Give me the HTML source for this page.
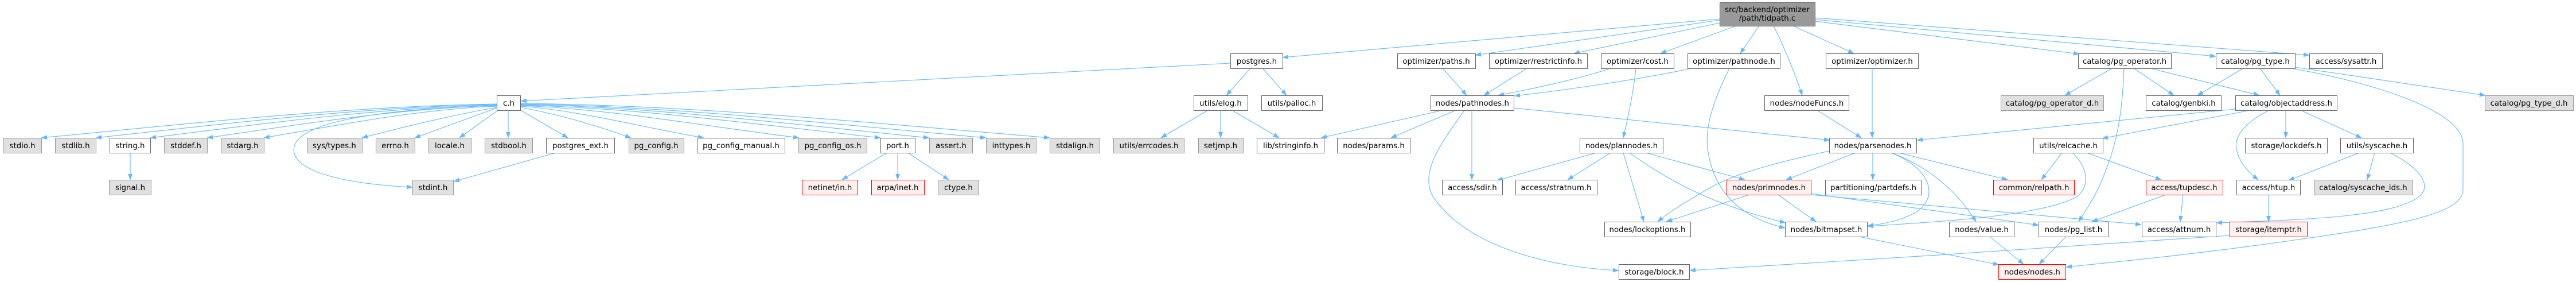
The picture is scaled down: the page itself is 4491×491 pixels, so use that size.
<!DOCTYPE html>
<html>
<head>
<meta charset="utf-8">
<style>
  html, body { margin: 0; padding: 0; background: #ffffff; }
  body { width: 4491px; height: 491px; overflow: hidden; }
  svg { display: block; }
  text { font-family: "DejaVu Sans", "Liberation Sans", sans-serif; font-size: 13.33px; fill: #000; text-anchor: middle; }
  .w { fill: #ffffff; stroke: #666666; stroke-width: 1; }
  .g { fill: #e0e0e0; stroke: #999999; stroke-width: 1; }
  .r { fill: #fff0f0; stroke: #ff0000; stroke-width: 1; }
  .root { fill: #999999; stroke: #666666; stroke-width: 1; }
  .e path { fill: none; stroke: #63b8ff; stroke-width: 1.1; }
</style>
</head>
<body>
<svg width="4491" height="491" viewBox="0 0 4491 491" xmlns="http://www.w3.org/2000/svg">
<defs>
  <marker id="a" markerWidth="11" markerHeight="9" refX="10" refY="4" orient="auto" markerUnits="userSpaceOnUse">
    <path d="M0,0.3 L10,4 L0,7.7 z" fill="#63b8ff" stroke="#63b8ff" stroke-width="0.5"/>
  </marker>
</defs>

<g class="e" marker-end="url(#a)">
  <!-- root edges -->
  <path d="M2998,33 L2236,100"/>
  <path d="M2998,35 L2572,96"/>
  <path d="M2998,40 L2744,93"/>
  <path d="M3027,45 L2895,93"/>
  <path d="M3067,45 L3034,93"/>
  <path d="M3092,45 C3110,80 3130,130 3142,166"/>
  <path d="M3126,45 L3232,93"/>
  <path d="M3164,37 L3625,94"/>
  <path d="M3164,34 L3863,98"/>
  <path d="M3164,31 L4026,96"/>

  <!-- postgres.h -->
  <path d="M2145,110 L908,176"/>
  <path d="M2180,119 L2138,166"/>
  <path d="M2201,119 L2243,166"/>

  <!-- c.h fan left -->
  <path d="M866,181 C604,185 334,215 72,240"/>
  <path d="M866,182 C635,186 398,215 167,240"/>
  <path d="M866,183 C667,187 461,215 262,240"/>
  <path d="M866,184 C699,188 528,216 361,240"/>
  <path d="M866,185 C732,190 594,217 460,240"/>
  <path d="M866,187 C790,200 700,222 631,240"/>
  <path d="M866,188 L723,240"/>
  <path d="M868,192 L801,240"/>
  <path d="M886,192 L886,240"/>
  <path d="M908,192 L990,240"/>
  <path d="M907,187 C980,200 1050,222 1100,240"/>
  <path d="M907,185 C1010,192 1120,222 1227,240"/>
  <path d="M907,184 C1070,190 1230,220 1393,240"/>
  <path d="M907,183 C1115,188 1330,218 1535,240"/>
  <path d="M907,182 C1140,186 1385,217 1620,240"/>
  <path d="M907,181 C1175,185 1450,216 1719,240"/>
  <path d="M907,180 C1210,183 1530,215 1830,240"/>
  <path d="M866,184 C650,190 500,215 513,267 C523,300 600,320 719,326"/>

  <path d="M227,266 L227,313"/>
  <path d="M969,266 L791,316"/>
  <path d="M1546,266 L1468,313"/>
  <path d="M1565,266 L1565,313"/>
  <path d="M1583,266 L1654,313"/>

  <!-- utils/elog.h -->
  <path d="M2106,192 L2024,240"/>
  <path d="M2128,192 L2128,240"/>
  <path d="M2148,192 L2230,240"/>

  <!-- optimizer headers -> pathnodes / plannodes -->
  <path d="M2515,119 L2557,166"/>
  <path d="M2662,119 L2587,166"/>
  <path d="M2808,119 C2750,138 2670,155 2612,166"/>
  <path d="M2852,119 C2848,160 2838,205 2830,240"/>
  <path d="M2949,119 C2850,140 2720,158 2640,167"/>
  <path d="M3015,119 C2990,170 2970,220 2978,265 C2990,340 3040,380 3112,397"/>
  <path d="M3264,119 L3264,240"/>
  <path d="M3168,192 L3245,240"/>

  <!-- pathnodes.h -->
  <path d="M2515,192 L2303,240"/>
  <path d="M2538,192 L2425,240"/>
  <path d="M2566,192 L2566,313"/>
  <path d="M2553,192 C2520,240 2470,300 2500,345 C2560,430 2700,465 2822,471"/>
  <path d="M2639,188 L3190,244"/>

  <!-- plannodes.h -->
  <path d="M2783,266 L2610,314"/>
  <path d="M2808,266 L2733,313"/>
  <path d="M2830,266 L2866,386"/>
  <path d="M2841,266 C2890,300 2960,350 3113,388"/>
  <path d="M2869,266 L3042,313"/>

  <!-- parsenodes.h -->
  <path d="M3235,266 L3114,313"/>
  <path d="M3265,266 L3265,313"/>
  <path d="M3297,266 C3360,290 3385,340 3340,370 C3310,385 3285,390 3256,393"/>
  <path d="M3298,266 C3360,290 3410,330 3445,386"/>
  <path d="M3310,266 L3500,313"/>
  <path d="M3189,263 C3110,280 3030,300 2985,325 C2950,345 2915,365 2890,386"/>

  <!-- primnodes.h -->
  <path d="M3050,339 L2905,386"/>
  <path d="M3100,339 L3166,386"/>
  <path d="M3157,337 L3554,392"/>
  <path d="M3157,339 L3733,391"/>

  <!-- catalog/pg_operator.h -->
  <path d="M3682,119 L3600,166"/>
  <path d="M3703,119 C3700,200 3690,250 3670,300 C3655,340 3640,360 3624,386"/>
  <path d="M3720,119 L3790,166"/>
  <path d="M3749,119 L3939,166"/>

  <!-- catalog/pg_type.h -->
  <path d="M3911,119 L3831,166"/>
  <path d="M3940,119 L3975,166"/>
  <path d="M4001,117 L4333,166"/>
  <path d="M3994,119 C4120,140 4294,190 4294,250 L4294,330 C4294,370 4200,390 4000,418 C3850,440 3700,455 3602,465"/>

  <!-- objectaddress.h -->
  <path d="M3897,190 L3342,244"/>
  <path d="M3923,192 L3665,241"/>
  <path d="M3956,192 C3910,215 3895,240 3899,260 C3905,285 3920,300 3937,313"/>
  <path d="M3985,192 L3985,240"/>
  <path d="M4011,192 L4117,240"/>

  <!-- relcache.h -->
  <path d="M3595,266 L3559,313"/>
  <path d="M3638,266 L3768,313"/>
  <path d="M3613,266 C3640,290 3645,325 3620,343 C3560,375 3400,385 3256,394"/>

  <!-- tupdesc, htup, syscache -->
  <path d="M3776,339 L3647,386"/>
  <path d="M3806,339 L3801,386"/>
  <path d="M3955,339 L3955,386"/>
  <path d="M4113,266 L3990,314"/>
  <path d="M4140,266 L4127,313"/>
  <path d="M4167,266 C4215,290 4240,320 4220,340 C4180,375 4050,382 3864,388"/>

  <!-- to nodes/nodes.h and block.h -->
  <path d="M3241,412 L3485,461"/>
  <path d="M3469,412 L3528,460"/>
  <path d="M3602,412 L3555,460"/>
  <path d="M3887,410 C3700,425 3200,455 2946,471"/>
</g>

<!-- root -->
<rect class="root" x="2998.5" y="4.5" width="166" height="41"/>
<text x="3081" y="21">src/backend/optimizer</text>
<text x="3081" y="36">/path/tidpath.c</text>

<!-- Row B (y=93) -->
<rect class="w" x="2145.5" y="93.5" width="91" height="26"/><text x="2191" y="111">postgres.h</text>
<rect class="w" x="2436.5" y="93.5" width="136" height="26"/><text x="2504" y="111">optimizer/paths.h</text>
<rect class="w" x="2596.5" y="93.5" width="171" height="26"/><text x="2682" y="111">optimizer/restrictinfo.h</text>
<rect class="w" x="2791.5" y="93.5" width="127" height="26"/><text x="2855" y="111">optimizer/cost.h</text>
<rect class="w" x="2942.5" y="93.5" width="161" height="26"/><text x="3023" y="111">optimizer/pathnode.h</text>
<rect class="w" x="3183.5" y="93.5" width="161" height="26"/><text x="3264" y="111">optimizer/optimizer.h</text>
<rect class="w" x="3623.5" y="93.5" width="162" height="26"/><text x="3704" y="111">catalog/pg_operator.h</text>
<rect class="w" x="3863.5" y="93.5" width="138" height="26"/><text x="3932" y="111">catalog/pg_type.h</text>
<rect class="w" x="4026.5" y="93.5" width="127" height="26"/><text x="4090" y="111">access/sysattr.h</text>

<!-- Row C (y=166) -->
<rect class="w" x="866.5" y="166.5" width="41" height="26"/><text x="887" y="184">c.h</text>
<rect class="w" x="2081.5" y="166.5" width="94" height="26"/><text x="2128" y="184">utils/elog.h</text>
<rect class="w" x="2199.5" y="166.5" width="106" height="26"/><text x="2252" y="184">utils/palloc.h</text>
<rect class="w" x="2494.5" y="166.5" width="145" height="26"/><text x="2567" y="184">nodes/pathnodes.h</text>
<rect class="w" x="3076.5" y="166.5" width="147" height="26"/><text x="3150" y="184">nodes/nodeFuncs.h</text>
<rect class="g" x="3488.5" y="166.5" width="179" height="26"/><text x="3578" y="184">catalog/pg_operator_d.h</text>
<rect class="w" x="3741.5" y="166.5" width="131" height="26"/><text x="3807" y="184">catalog/genbki.h</text>
<rect class="w" x="3897.5" y="166.5" width="177" height="26"/><text x="3986" y="184">catalog/objectaddress.h</text>
<rect class="g" x="4332.5" y="166.5" width="154" height="26"/><text x="4409" y="184">catalog/pg_type_d.h</text>

<!-- Row D (y=240) -->
<rect class="g" x="5.5" y="240.5" width="67" height="26"/><text x="39" y="258">stdio.h</text>
<rect class="g" x="96.5" y="240.5" width="71" height="26"/><text x="132" y="258">stdlib.h</text>
<rect class="w" x="191.5" y="240.5" width="71" height="26"/><text x="227" y="258">string.h</text>
<rect class="g" x="286.5" y="240.5" width="75" height="26"/><text x="324" y="258">stddef.h</text>
<rect class="g" x="385.5" y="240.5" width="75" height="26"/><text x="423" y="258">stdarg.h</text>
<rect class="g" x="535.5" y="240.5" width="96" height="26"/><text x="583" y="258">sys/types.h</text>
<rect class="g" x="655.5" y="240.5" width="68" height="26"/><text x="689" y="258">errno.h</text>
<rect class="g" x="747.5" y="240.5" width="74" height="26"/><text x="784" y="258">locale.h</text>
<rect class="g" x="845.5" y="240.5" width="83" height="26"/><text x="887" y="258">stdbool.h</text>
<rect class="w" x="952.5" y="240.5" width="119" height="26"/><text x="1012" y="258">postgres_ext.h</text>
<rect class="g" x="1096.5" y="240.5" width="96" height="26"/><text x="1144" y="258">pg_config.h</text>
<rect class="w" x="1215.5" y="240.5" width="153" height="26"/><text x="1292" y="258">pg_config_manual.h</text>
<rect class="g" x="1392.5" y="240.5" width="119" height="26"/><text x="1452" y="258">pg_config_os.h</text>
<rect class="w" x="1535.5" y="240.5" width="60" height="26"/><text x="1565" y="258">port.h</text>
<rect class="g" x="1620.5" y="240.5" width="75" height="26"/><text x="1658" y="258">assert.h</text>
<rect class="g" x="1719.5" y="240.5" width="87" height="26"/><text x="1763" y="258">inttypes.h</text>
<rect class="g" x="1830.5" y="240.5" width="87" height="26"/><text x="1874" y="258">stdalign.h</text>
<rect class="g" x="1941.5" y="240.5" width="123" height="26"/><text x="2003" y="258">utils/errcodes.h</text>
<rect class="g" x="2089.5" y="240.5" width="78" height="26"/><text x="2128" y="258">setjmp.h</text>
<rect class="w" x="2191.5" y="240.5" width="117" height="26"/><text x="2250" y="258">lib/stringinfo.h</text>
<rect class="w" x="2331.5" y="240.5" width="127" height="26"/><text x="2395" y="258">nodes/params.h</text>
<rect class="w" x="2754.5" y="240.5" width="145" height="26"/><text x="2827" y="258">nodes/plannodes.h</text>
<rect class="w" x="3189.5" y="240.5" width="152" height="26"/><text x="3265" y="258">nodes/parsenodes.h</text>
<rect class="w" x="3545.5" y="240.5" width="121" height="26"/><text x="3606" y="258">utils/relcache.h</text>
<rect class="w" x="3914.5" y="240.5" width="143" height="26"/><text x="3986" y="258">storage/lockdefs.h</text>
<rect class="w" x="4080.5" y="240.5" width="127" height="26"/><text x="4144" y="258">utils/syscache.h</text>

<!-- Row E (y=313) -->
<rect class="g" x="190.5" y="313.5" width="73" height="26"/><text x="227" y="331">signal.h</text>
<rect class="g" x="719.5" y="313.5" width="71" height="26"/><text x="755" y="331">stdint.h</text>
<rect class="r" x="1398.5" y="313.5" width="97" height="26"/><text x="1447" y="331">netinet/in.h</text>
<rect class="r" x="1519.5" y="313.5" width="92" height="26"/><text x="1565" y="331">arpa/inet.h</text>
<rect class="g" x="1635.5" y="313.5" width="71" height="26"/><text x="1671" y="331">ctype.h</text>
<rect class="w" x="2514.5" y="313.5" width="105" height="26"/><text x="2567" y="331">access/sdir.h</text>
<rect class="w" x="2642.5" y="313.5" width="142" height="26"/><text x="2713" y="331">access/stratnum.h</text>
<rect class="r" x="3010.5" y="313.5" width="147" height="26"/><text x="3084" y="331">nodes/primnodes.h</text>
<rect class="w" x="3182.5" y="313.5" width="167" height="26"/><text x="3266" y="331">partitioning/partdefs.h</text>
<rect class="r" x="3475.5" y="313.5" width="141" height="26"/><text x="3546" y="331">common/relpath.h</text>
<rect class="r" x="3741.5" y="313.5" width="134" height="26"/><text x="3808" y="331">access/tupdesc.h</text>
<rect class="w" x="3899.5" y="313.5" width="111" height="26"/><text x="3955" y="331">access/htup.h</text>
<rect class="g" x="4034.5" y="313.5" width="172" height="26"/><text x="4120" y="331">catalog/syscache_ids.h</text>

<!-- Row F (y=386) -->
<rect class="w" x="2797.5" y="386.5" width="150" height="26"/><text x="2872" y="404">nodes/lockoptions.h</text>
<rect class="w" x="3112.5" y="386.5" width="143" height="26"/><text x="3184" y="404">nodes/bitmapset.h</text>
<rect class="w" x="3398.5" y="386.5" width="113" height="26"/><text x="3455" y="404">nodes/value.h</text>
<rect class="w" x="3554.5" y="386.5" width="121" height="26"/><text x="3615" y="404">nodes/pg_list.h</text>
<rect class="w" x="3734.5" y="386.5" width="129" height="26"/><text x="3799" y="404">access/attnum.h</text>
<rect class="r" x="3887.5" y="386.5" width="135" height="26"/><text x="3955" y="404">storage/itemptr.h</text>

<!-- Row G (y=460) -->
<rect class="w" x="2822.5" y="460.5" width="123" height="26"/><text x="2884" y="478">storage/block.h</text>
<rect class="r" x="3484.5" y="460.5" width="117" height="26"/><text x="3543" y="478">nodes/nodes.h</text>
</svg>
</body>
</html>
